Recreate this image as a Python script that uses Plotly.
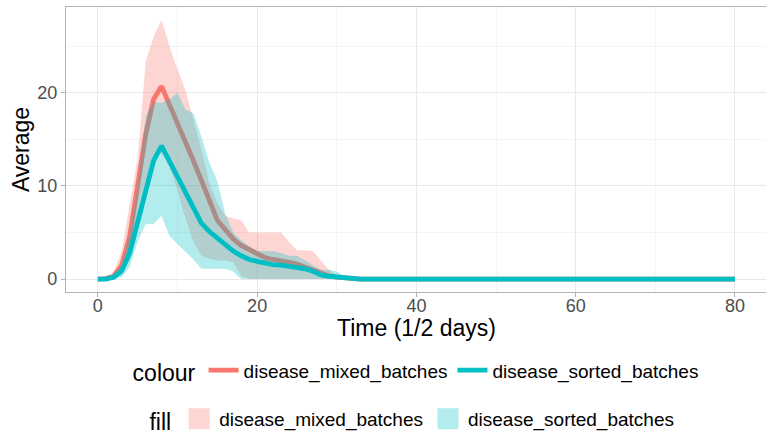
import plotly.graph_objects as go

# ---- data ----
time = list(range(0, 81))

mixed_mean = [0, 0.05, 0.3, 1.5, 4.6, 10.0, 15.5, 19.3, 20.7, 18.7, 16.8, 14.7, 12.7, 10.6, 8.3,
              6.3, 5.3, 4.3, 3.6, 3.2, 2.7, 2.3, 2.1, 2.0, 1.8, 1.6, 1.3, 1.0, 0.6, 0.35, 0.2,
              0.1, 0.05] + [0] * 48
mixed_upper = [0, 0.1, 0.8, 3.0, 8.0, 13.0, 23.3, 26.0, 27.8, 25.0, 22.5, 20.3, 17.1, 13.9, 10.3,
               8.2, 6.8, 6.5, 6.3, 5.0, 5.0, 5.0, 5.0, 5.0, 4.0, 3.1, 3.1, 3.0, 2.0, 1.0, 0.4,
               0.1, 0] + [0] * 48
mixed_lower = [0, 0, 0, 0.5, 2.0, 6.0, 10.0, 13.0, 13.5, 12.0, 9.5, 6.5, 4.0, 2.5, 2.2,
               2.0, 2.0, 1.8, 0.3, 0, 0, 0, 0, 0, 0, 0, 0, 0, 0, 0, 0,
               0, 0] + [0] * 48

sorted_mean = [0, 0, 0.2, 0.9, 2.8, 6.0, 9.5, 12.7, 14.3, 12.6, 11.0, 9.3, 7.6, 6.0, 5.1,
               4.4, 3.6, 3.0, 2.5, 2.1, 1.9, 1.7, 1.55, 1.5, 1.4, 1.25, 1.1, 0.85, 0.45, 0.3, 0.2,
               0.1, 0] + [0] * 48
sorted_upper = [0, 0.1, 0.5, 1.5, 5.0, 10.0, 17.5, 19.0, 18.9, 19.3, 20.0, 18.2, 17.8, 15.3, 12.5,
                10.5, 7.0, 5.0, 4.2, 3.5, 3.0, 3.0, 3.0, 2.8, 2.5, 2.5, 2.0, 1.5, 1.0, 1.0, 0.8,
                0.3, 0] + [0] * 48
sorted_lower = [0, 0, 0, 0.2, 1.3, 4.0, 5.9, 5.9, 6.8, 4.6, 3.8, 2.9, 2.1, 1.1, 1.1,
                1.1, 1.1, 0.8, 0, 0, 0, 0, 0, 0, 0, 0, 0, 0, 0, 0, 0,
                0, 0] + [0] * 48

series_names = ["disease_mixed_batches", "disease_sorted_batches"]
x_ticks = [0, 20, 40, 60, 80]
y_ticks = [0, 10, 20]

RED = "#F8766D"
TEAL = "#00BFC4"
RED_FILL = "rgba(248,118,109,0.3)"
TEAL_FILL = "rgba(0,191,196,0.3)"
RED_KEY = "rgb(253,214,211)"
TEAL_KEY = "rgb(179,236,237)"
FONT = "Liberation Sans"

fig = go.Figure()

groups = [
    (series_names[0], mixed_lower, mixed_upper, mixed_mean, RED, RED_FILL),
    (series_names[1], sorted_lower, sorted_upper, sorted_mean, TEAL, TEAL_FILL),
]
for name, lo, hi, mean, col, fcol in groups:
    fig.add_trace(go.Scatter(x=time, y=lo, mode="lines", line=dict(width=0, color=fcol),
                             showlegend=False, hoverinfo="skip"))
    fig.add_trace(go.Scatter(x=time, y=hi, mode="lines", line=dict(width=0, color=fcol),
                             fill="tonexty", fillcolor=fcol, showlegend=False, hoverinfo="skip"))
    fig.add_trace(go.Scatter(x=time, y=mean, mode="lines", name=name,
                             line=dict(color=col, width=4.8), legend="legend"))

# fill legend keys
for name, kcol in [(series_names[0], RED_KEY), (series_names[1], TEAL_KEY)]:
    fig.add_trace(go.Scatter(x=[None], y=[None], mode="markers", name=name,
                             marker=dict(symbol="square", size=16, color=kcol,
                                         line=dict(color=kcol, width=5)),
                             legend="legend2"))

fig.update_layout(
    width=766, height=436,
    margin=dict(l=66, r=0, t=7, b=144, autoexpand=False),
    paper_bgcolor="white", plot_bgcolor="white",
    font=dict(family=FONT, color="black"),
    xaxis=dict(range=[-4, 83.9], tickvals=x_ticks, showgrid=True, gridcolor="#e9e9e9", gridwidth=1,
               minor=dict(dtick=10, showgrid=True, gridcolor="#f4f4f4", gridwidth=0.8),
               zeroline=False, showline=True, mirror=True, linecolor="#b3b3b3", linewidth=1.3,
               ticks="outside", ticklen=4, tickcolor="#b3b3b3", tickwidth=1, automargin=False,
               ticklabelstandoff=-7,
               tickfont=dict(size=18, color="#4d4d4d", family=FONT)),
    yaxis=dict(range=[-1.39, 29.2], tickvals=y_ticks, showgrid=True, gridcolor="#e9e9e9", gridwidth=1,
               minor=dict(dtick=5, showgrid=True, gridcolor="#f4f4f4", gridwidth=0.8),
               zeroline=False, showline=True, mirror=False, linecolor="#b3b3b3", linewidth=1.3,
               ticks="outside", ticklen=4, tickcolor="#b3b3b3", tickwidth=1, automargin=False,
               tickfont=dict(size=18, color="#4d4d4d", family=FONT),
               title=dict(text="Average", font=dict(size=23, family=FONT), standoff=1)),
    annotations=[dict(text="Time (1/2 days)", xref="paper", yref="paper", x=0.5, y=-0.1278,
                      xanchor="center", yanchor="middle", showarrow=False,
                      font=dict(size=23, family=FONT, color="black"))],
    legend=dict(orientation="h", x=0.0923, xanchor="left", y=-0.2785, yanchor="middle",
                traceorder="normal",
                title=dict(text="colour", font=dict(size=23, family=FONT)),
                font=dict(size=19, family=FONT), bgcolor="rgba(0,0,0,0)", itemsizing="trace"),
    legend2=dict(orientation="h", x=0.1163, xanchor="left", y=-0.4485, yanchor="middle",
                 traceorder="normal",
                 title=dict(text="fill", font=dict(size=23, family=FONT)),
                 font=dict(size=19, family=FONT), bgcolor="rgba(0,0,0,0)", itemsizing="trace"),
)

fig.write_html("out.html", post_script="document.body.style.margin='0';",
               config={"displayModeBar": False})
